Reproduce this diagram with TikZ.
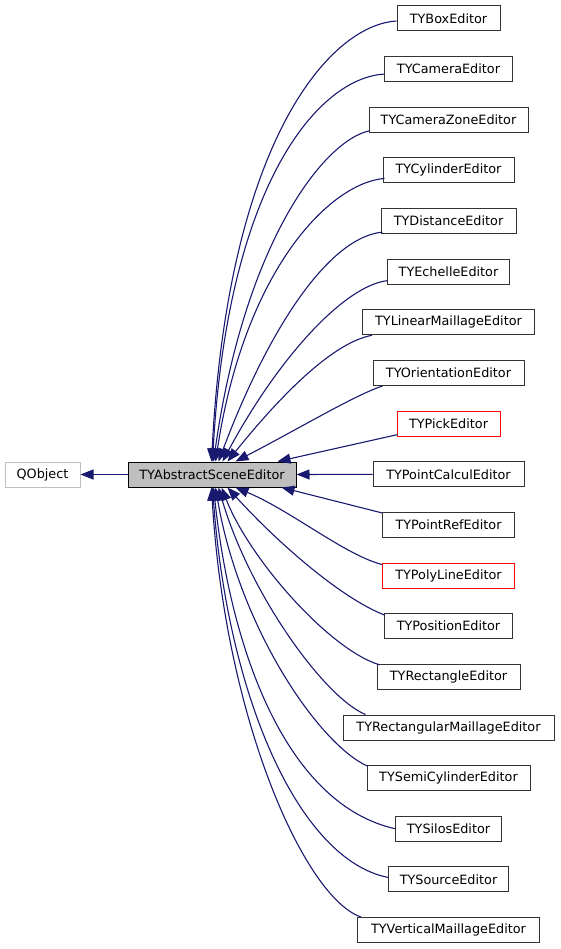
\documentclass[tikz,border=0pt]{standalone}
\usepackage{fontspec}
\setmainfont{DejaVu Sans}
\usetikzlibrary{arrows.meta,calc}
\definecolor{edgeblue}{HTML}{191970}
\definecolor{boxgray}{HTML}{333333}
\definecolor{lightborder}{HTML}{BFBFBF}
\definecolor{fillgray}{HTML}{BFBFBF}
\begin{document}
\begin{tikzpicture}[x=1pt,y=-1pt,
  cls/.style={draw=boxgray, fill=white, line width=1pt, minimum height=25pt, inner sep=0pt,
              font=\fontsize{12.8}{15}\selectfont, text=black},
  redcls/.style={cls, draw=red},
  edge/.style={draw=edgeblue, line width=1.1pt, -{Triangle[length=13pt,width=10pt]}},
]
\useasboundingbox (0,0) rectangle (560,949);
% base and parent
\node[cls, draw=lightborder, minimum width=75pt] (q) at (42.5,474.5) {QObject};
\node[cls, fill=fillgray, draw=black, minimum width=168pt] (p) at (212,474.5) {TYAbstractSceneEditor};
% children
\node[cls, minimum width=103pt] (n1) at (448.5,18.5) {TYBoxEditor};
\node[cls, minimum width=128pt] (n2) at (448.5,69.1) {TYCameraEditor};
\node[cls, minimum width=159pt] (n3) at (448.5,119.8) {TYCameraZoneEditor};
\node[cls, minimum width=131pt] (n4) at (448.5,170.4) {TYCylinderEditor};
\node[cls, minimum width=135pt] (n5) at (448.5,221.1) {TYDistanceEditor};
\node[cls, minimum width=122pt] (n6) at (448.5,271.7) {TYEchelleEditor};
\node[cls, minimum width=172pt] (n7) at (448.5,322.3) {TYLinearMaillageEditor};
\node[cls, minimum width=151pt] (n8) at (448.5,373.0) {TYOrientationEditor};
\node[redcls, minimum width=103pt] (n9) at (448.5,423.6) {TYPickEditor};
\node[cls, minimum width=151pt] (n10) at (448.5,474.3) {TYPointCalculEditor};
\node[cls, minimum width=132pt] (n11) at (448.5,524.9) {TYPointRefEditor};
\node[redcls, minimum width=132pt] (n12) at (448.5,575.5) {TYPolyLineEditor};
\node[cls, minimum width=128pt] (n13) at (448.5,626.2) {TYPositionEditor};
\node[cls, minimum width=143pt] (n14) at (448.5,676.8) {TYRectangleEditor};
\node[cls, minimum width=211pt] (n15) at (448.5,727.5) {TYRectangularMaillageEditor};
\node[cls, minimum width=163pt] (n16) at (448.5,778.1) {TYSemiCylinderEditor};
\node[cls, minimum width=106pt] (n17) at (448.5,828.7) {TYSilosEditor};
\node[cls, minimum width=120pt] (n18) at (448.5,879.4) {TYSourceEditor};
\node[cls, minimum width=182pt] (n19) at (448.5,930.0) {TYVerticalMaillageEditor};
% inheritance edges
\draw[edge] (p.west) -- (q.east);
\draw[edge] ($(n1.west)+(0,2.5)$) .. controls (330,25) and (228,140) .. ($(p.north west)+(84,0)$);
\draw[edge] ($(n2.west)+(0,5)$) .. controls (320,78) and (228,180) .. ($(p.north west)+(85,0)$);
\draw[edge] ($(n3.south west)+(1,-2)$) .. controls (325,140) and (245,240) .. ($(p.north west)+(86,0)$);
\draw[edge] ($(n4.south west)+(2,-5)$) .. controls (330,183) and (245,269) .. ($(p.north west)+(88,0)$);
\draw[edge] ($(n5.south west)+(2,-2)$) .. controls (330,237) and (270,325) .. ($(p.north west)+(91,0)$);
\draw[edge] ($(n6.south west)+(0,-4)$) .. controls (345,286) and (280,355) .. ($(p.north west)+(95,0)$);
\draw[edge] ($(n7.south west)+(10,0)$) .. controls (335,342) and (285,390) .. ($(p.north west)+(100,0)$);
\draw[edge] ($(n8.south west)+(10,0)$) .. controls (355,395) and (300,428) .. ($(p.north west)+(108,0)$);
\draw[edge] ($(n9.south west)+(1,-2)$) -- ($(p.north west)+(150,0)$);
\draw[edge] (n10.west) -- (p.east);
\draw[edge] ($(n11.north west)+(0,1)$) -- ($(p.south west)+(154,0)$);
\draw[edge] ($(n12.north west)+(0,2)$) .. controls (345,555) and (290,510) .. ($(p.south west)+(108,0)$);
\draw[edge] ($(n13.north west)+(1,2)$) .. controls (340,598) and (275,540) .. ($(p.south west)+(100,0)$);
\draw[edge] ($(n14.north west)+(3,1)$) .. controls (330,650) and (250,560) .. ($(p.south west)+(94,0)$);
\draw[edge] ($(n15.north west)+(23,0)$) .. controls (325,698) and (250,595) .. ($(p.south west)+(91,0)$);
\draw[edge] ($(n16.north west)+(1,1)$) .. controls (320,745) and (240,630) .. ($(p.south west)+(88,0)$);
\draw[edge] (n17.west) .. controls (290,805) and (232,660) .. ($(p.south west)+(86,0)$);
\draw[edge] ($(n18.west)+(0,-2)$) .. controls (300,860) and (228,700) .. ($(p.south west)+(85,0)$);
\draw[edge] ($(n19.north west)+(4,0)$) .. controls (305,898) and (225,720) .. ($(p.south west)+(84,0)$);
\end{tikzpicture}
\end{document}
